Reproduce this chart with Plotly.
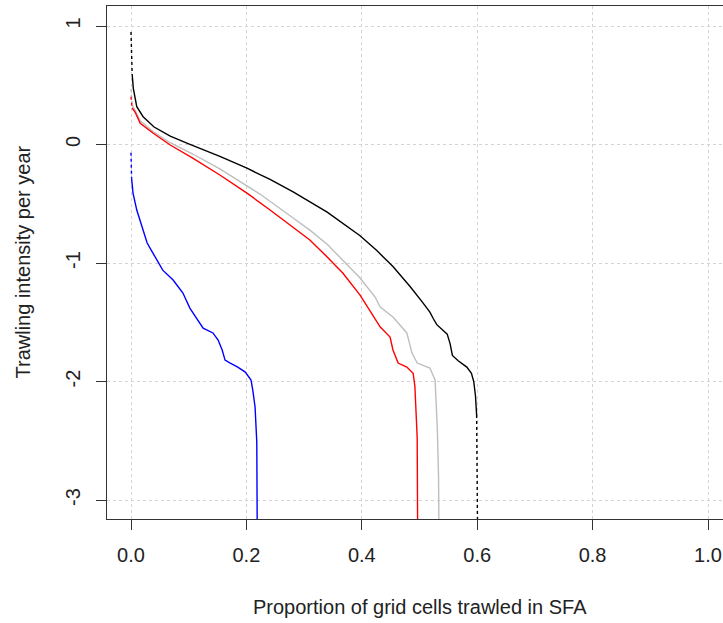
import plotly.graph_objects as go

# ---- data (proportion of grid cells trawled vs log10 trawling intensity) ----
black_top_x = [0.0, 0.002]
black_top_y = [0.95, 0.595]
black_x = [0.002, 0.004, 0.010, 0.021, 0.040, 0.068, 0.100, 0.154, 0.201, 0.241, 0.281, 0.340, 0.397, 0.426,
           0.454, 0.484, 0.505, 0.518, 0.524, 0.530, 0.548, 0.553, 0.557, 0.567, 0.582, 0.590, 0.594, 0.597, 0.599]
black_y = [0.595, 0.474, 0.319, 0.235, 0.148, 0.07, 0.005, -0.10, -0.20, -0.295, -0.40, -0.57, -0.77, -0.895,
           -1.03, -1.20, -1.33, -1.414, -1.47, -1.52, -1.60, -1.68, -1.78, -1.825, -1.878, -1.93, -2.0, -2.12, -2.283]
black_tail_x = [0.599, 0.601]
black_tail_y = [-2.283, -3.5]

gray_top_x = [0.0, 0.002]
gray_top_y = [0.47, 0.33]
gray_x = [0.002, 0.007, 0.016, 0.038, 0.068, 0.107, 0.154, 0.201, 0.224, 0.281, 0.310, 0.340, 0.367, 0.397,
          0.423, 0.432, 0.454, 0.478, 0.487, 0.496, 0.518, 0.527, 0.531, 0.533, 0.534]
gray_y = [0.33, 0.29, 0.20, 0.11, 0.015, -0.08, -0.205, -0.345, -0.42, -0.62, -0.722, -0.841, -0.975, -1.127,
          -1.287, -1.371, -1.456, -1.59, -1.76, -1.844, -1.886, -1.987, -2.41, -2.8, -3.5]

red_top_x = [0.0, 0.002]
red_top_y = [0.403, 0.308]
red_x = [0.002, 0.007, 0.016, 0.038, 0.068, 0.107, 0.154, 0.201, 0.241, 0.281, 0.310, 0.340, 0.367, 0.397,
         0.432, 0.449, 0.454, 0.463, 0.478, 0.489, 0.492, 0.494, 0.496, 0.497]
red_y = [0.308, 0.274, 0.18, 0.097, -0.004, -0.114, -0.257, -0.41, -0.553, -0.696, -0.806, -0.949, -1.084, -1.27,
         -1.54, -1.624, -1.734, -1.844, -1.878, -1.93, -2.04, -2.257, -2.477, -3.5]

blue_top_x = [0.0, 0.001]
blue_top_y = [-0.07, -0.283]
blue_x = [0.001, 0.0035, 0.010, 0.019, 0.028, 0.038, 0.055, 0.073, 0.090, 0.102, 0.114, 0.125, 0.142, 0.151,
          0.158, 0.163, 0.172, 0.185, 0.198, 0.208, 0.211, 0.215, 0.218, 0.219]
blue_y = [-0.283, -0.41, -0.553, -0.696, -0.831, -0.916, -1.06, -1.143, -1.253, -1.38, -1.47, -1.549, -1.59, -1.65,
          -1.734, -1.819, -1.844, -1.878, -1.92, -1.987, -2.07, -2.215, -2.51, -3.5]

x_ticks = [0.0, 0.2, 0.4, 0.6, 0.8, 1.0]
x_ticktext = ["0.0", "0.2", "0.4", "0.6", "0.8", "1.0"]
y_ticks = [-3, -2, -1, 0, 1]
y_ticktext = ["-3", "-2", "-1", "0", "1"]

x_title = "Proportion of grid cells trawled in SFA"
y_title = "Trawling intensity per year"

FONT = "Liberation Sans, Arial, sans-serif"
FS = 20

fig = go.Figure()

series = [
    ("#BEBEBE", gray_top_x, gray_top_y, gray_x, gray_y, None, None),
    ("#FF0000", red_top_x, red_top_y, red_x, red_y, None, None),
    ("#000000", black_top_x, black_top_y, black_x, black_y, black_tail_x, black_tail_y),
    ("#0000FF", blue_top_x, blue_top_y, blue_x, blue_y, None, None),
]
for color, tx, ty, mx, my, ex, ey in series:
    fig.add_trace(go.Scatter(x=tx, y=ty, mode="lines", line=dict(color=color, width=1.4, dash="dot"),
                             showlegend=False, hoverinfo="skip"))
    fig.add_trace(go.Scatter(x=mx, y=my, mode="lines", line=dict(color=color, width=1.4),
                             showlegend=False))
    if ex is not None:
        fig.add_trace(go.Scatter(x=ex, y=ey, mode="lines", line=dict(color=color, width=1.4, dash="dot"),
                                 showlegend=False, hoverinfo="skip"))

fig.update_layout(
    width=723, height=623,
    margin=dict(l=107, r=0, t=6, b=104, autoexpand=False),
    plot_bgcolor="white", paper_bgcolor="white",
    font=dict(family=FONT, size=FS, color="#222222"),
    showlegend=False,
    xaxis=dict(range=[-0.0416, 1.026], tickvals=x_ticks, ticktext=x_ticktext, automargin=False,
               showgrid=True, gridcolor="#D3D3D3", griddash="dot", gridwidth=1,
               zeroline=False, showline=True, linecolor="#333333", linewidth=1, mirror=True,
               ticks="outside", ticklen=10, tickcolor="#333333", tickfont=dict(size=FS),
               ticklabelstandoff=8),
    yaxis=dict(range=[-3.16, 1.169], tickvals=y_ticks, ticktext=y_ticktext, tickangle=-90, automargin=False,
               showgrid=True, gridcolor="#D3D3D3", griddash="dot", gridwidth=1,
               zeroline=False, showline=True, linecolor="#333333", linewidth=1, mirror=False,
               ticks="outside", ticklen=10, tickcolor="#333333", tickfont=dict(size=FS),
               ticklabelstandoff=8),
    annotations=[
        dict(text=x_title, xref="x", x=0.5, yref="paper", y=(519 - 607) / 513,
             xanchor="center", yanchor="middle", showarrow=False, font=dict(size=FS)),
        dict(text=y_title, xref="paper", x=(22 - 107) / 616, yref="paper", y=0.5, textangle=-90,
             xanchor="center", yanchor="middle", showarrow=False, font=dict(size=FS)),
    ],
)

fig.write_html("out.html", config={"displayModeBar": False},
               post_script="document.body.style.margin='0px';document.body.style.overflow='hidden';")
